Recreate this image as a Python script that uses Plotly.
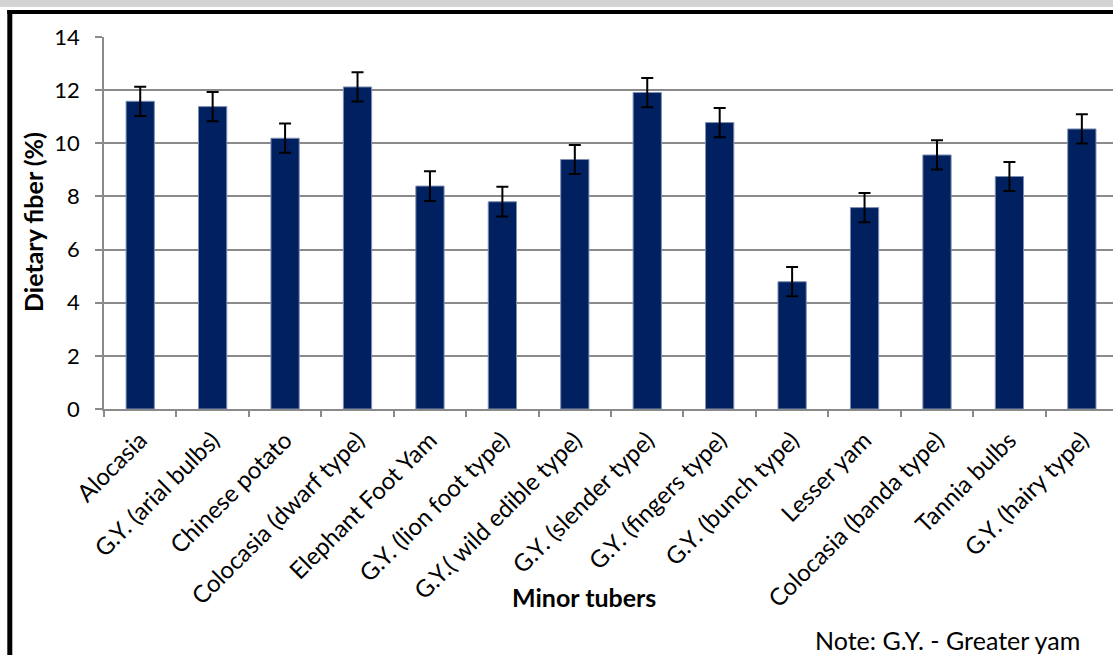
import plotly.graph_objects as go

categories = [
    "Alocasia", "G.Y. (arial bulbs)", "Chinese potato", "Colocasia (dwarf type)",
    "Elephant Foot Yam", "G.Y. (lion foot type)", "G.Y.( wild edible type)",
    "G.Y. (slender type)", "G.Y. (fingers type)", "G.Y. (bunch type)",
    "Lesser yam", "Colocasia (banda type)", "Tannia bulbs", "G.Y. (hairy type)",
]
fiber = [11.58, 11.38, 10.19, 12.12, 8.39, 7.80, 9.39, 11.91, 10.78, 4.79, 7.58, 9.56, 8.75, 10.54]
fiber_err = [0.55, 0.55, 0.55, 0.55, 0.56, 0.56, 0.55, 0.55, 0.55, 0.55, 0.55, 0.55, 0.55, 0.55]
y_ticks = [0, 2, 4, 6, 8, 10, 12, 14]

FONT = "Lato, Carlito, Calibri, sans-serif"
GRID = "#8a8a8a"

W, H = 1113, 655
L, R, T, B = 104, 0, 37, 246
pw, ph = W - L - R, H - T - B


def px(xpix):
    return (xpix - L) / pw


def py(ypix):
    return (H - B - ypix) / ph


fig = go.Figure()
fig.add_trace(go.Bar(
    x=categories, y=fiber,
    marker=dict(color="#002060", line=dict(color="#7f8fb3", width=1)),
    error_y=dict(type="data", array=fiber_err, visible=True,
                 color="black", thickness=2, width=6),
    showlegend=False,
))

fig.update_layout(
    width=W, height=H,
    margin=dict(l=L, r=R, t=T, b=B, pad=0),
    paper_bgcolor="white", plot_bgcolor="white",
    bargap=0.61,
    font=dict(family=FONT, color="black"),
    xaxis=dict(
        type="category", range=[-0.5, 13.43],
        tickson="boundaries", ticks="outside", ticklen=6, tickwidth=1.5,
        tickcolor=GRID, showline=True, linecolor=GRID, linewidth=1.5,
        showgrid=False, tickangle=-45, tickfont=dict(size=24, family=FONT),
        ticklabelstandoff=6,
    ),
    yaxis=dict(
        range=[0, 14], tickvals=y_ticks, showgrid=True, gridcolor=GRID,
        gridwidth=1.5, zeroline=False, showline=True, linecolor=GRID,
        linewidth=1.5, ticks="outside", ticklen=7, tickwidth=1.5,
        tickcolor=GRID, tickfont=dict(size=22, family=FONT),
        ticklabelstandoff=11,
    ),
    shapes=[
        dict(type="rect", xref="paper", yref="paper",
             x0=px(-5), x1=px(W + 5), y0=py(7), y1=py(-5),
             fillcolor="#d4d4d4", line=dict(width=0)),
        dict(type="line", xref="paper", yref="paper",
             x0=px(9.8), x1=px(9.8), y0=py(H + 10), y1=py(10),
             line=dict(color="black", width=5)),
        dict(type="line", xref="paper", yref="paper",
             x0=px(7.3), x1=px(W + 10), y0=py(12), y1=py(12),
             line=dict(color="black", width=4)),
    ],
    annotations=[
        dict(text="<b>Dietary fiber (%)</b>", xref="paper", yref="paper",
             x=px(33), y=py(222), textangle=-90, showarrow=False,
             font=dict(size=25, family=FONT), xanchor="center", yanchor="middle"),
        dict(text="<b>Minor tubers</b>", xref="paper", yref="paper",
             x=px(584), y=py(597), showarrow=False,
             font=dict(size=25, family=FONT), xanchor="center", yanchor="middle"),
        dict(text="Note: G.Y. - Greater yam", xref="paper", yref="paper",
             x=px(947), y=py(640), showarrow=False,
             font=dict(size=25, family=FONT), xanchor="center", yanchor="middle"),
    ],
)

fig.write_html(
    "out.html",
    config={"displayModeBar": False},
    post_script="document.body.style.margin='0';document.body.style.overflow='hidden';",
)
